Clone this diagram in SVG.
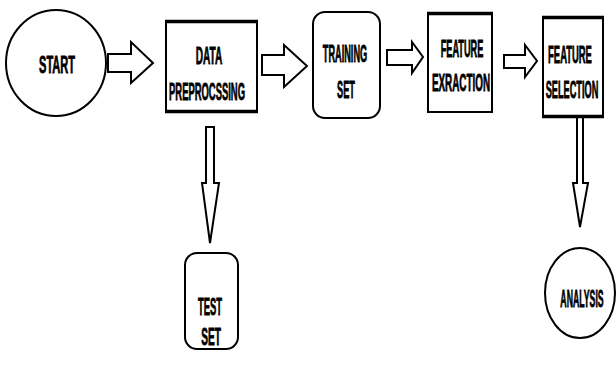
<svg xmlns="http://www.w3.org/2000/svg" width="616" height="367" viewBox="0 0 616 367">
<style>
.shape{fill:#fff;stroke:#000;stroke-width:2}
.thick{stroke:#000;stroke-width:3.5}
.arrow{fill:#fff;stroke:#000;stroke-width:2;stroke-linejoin:miter}
text{font-family:"Liberation Sans",Arial,sans-serif;font-weight:bold;font-size:23px;fill:#000;stroke:#000;stroke-width:0.8;text-anchor:middle}
</style>
<rect width="616" height="367" fill="#fff"/>
<g id="connectors">
<path class="arrow" d="M108,54 H131 V42 L153,63 L131,83 V72 H108 Z"/>
<path class="arrow" d="M262,55 H284 V45 L307,66 L284,87 V75 H262 Z"/>
<path class="arrow" d="M387,50 H412 V42 L423,57 L412,73 V65 H387 Z"/>
<path class="arrow" d="M504,55 H525 V45 L537,61 L525,77 V68 H504 Z"/>
<path class="arrow" d="M206,127 H214 V183 H219 L210,243 L202,183 H206 Z"/>
<path class="arrow" d="M577,113 H583 V183 H588 L580,227 L573,183 H577 Z"/>
</g>
<g id="start">
<ellipse class="shape" cx="56" cy="63" rx="50" ry="53"/>
<text transform="translate(57,73) scale(0.48,1)">START</text>
</g>
<g id="data-preprocessing">
<rect class="shape" x="166" y="21" width="91" height="91"/>
<line class="thick" x1="165" y1="21.5" x2="258" y2="21.5"/>
<line class="thick" x1="165" y1="111.5" x2="258" y2="111.5"/>
<text transform="translate(209,64) scale(0.44,1)">DATA</text>
<text transform="translate(207,100) scale(0.41,1)">PREPROCSSING</text>
</g>
<g id="training-set">
<rect class="shape" x="313" y="12" width="67" height="106" rx="12"/>
<text transform="translate(345,62) scale(0.40,1)">TRAINING</text>
<text transform="translate(346,98) scale(0.40,1)">SET</text>
</g>
<g id="feature-extraction">
<rect class="shape" x="428" y="13" width="64" height="99"/>
<line class="thick" x1="427" y1="13.5" x2="493" y2="13.5"/>
<text transform="translate(462,57) scale(0.40,1)">FEATURE</text>
<text transform="translate(461,91) scale(0.43,1)">EXRACTION</text>
</g>
<g id="feature-selection">
<rect class="shape" x="543" y="17" width="60" height="100"/>
<line class="thick" x1="542" y1="17.5" x2="604" y2="17.5"/>
<line class="thick" x1="542" y1="116.5" x2="604" y2="116.5"/>
<text transform="translate(570,63) scale(0.41,1)">FEATURE</text>
<text transform="translate(572,98) scale(0.40,1)">SELECTION</text>
</g>
<g id="test-set">
<rect class="shape" x="185" y="253" width="53" height="96" rx="12"/>
<text transform="translate(210,315) scale(0.41,1)">TEST</text>
<text transform="translate(211,345) scale(0.44,1)">SET</text>
</g>
<g id="analysis">
<ellipse class="shape" cx="580" cy="293" rx="35" ry="45"/>
<text transform="translate(582,307) scale(0.38,1)">ANALYSIS</text>
</g>
</svg>
